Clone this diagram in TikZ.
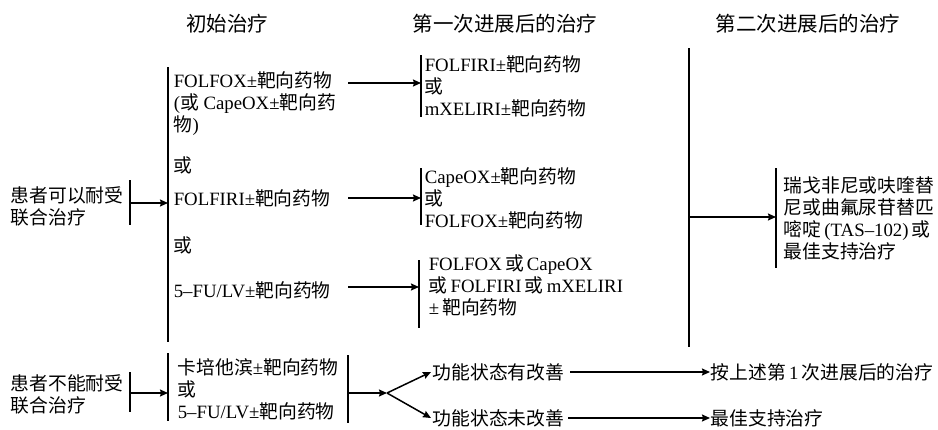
\documentclass[tikz,border=0pt]{standalone}
\usepackage{fontspec}
\setmainfont{Liberation Serif}
\newfontfamily\zhfont{Noto Sans CJK SC}
\newcommand{\zh}[1]{{\zhfont #1}}
\usetikzlibrary{
  arrows.meta,
  chains,
  scopes
}

\begin{document}
\begin{tikzpicture}[x=1pt,y=-1pt,
      body/.style={
         anchor=west,
         align=left,
         inner sep=0pt,
         font=\fontsize{18.8}{22}\selectfont
      },
      heading/.style={
         inner sep=0pt,
         font=\fontsize{20.5}{24}\selectfont
      },
      point/.style={coordinate},>={Stealth[length=8pt,width=7pt,inset=1pt]},
      line width=1.5pt,
      tip/.style={->,shorten >=0.007pt}
    ]
    \useasboundingbox (0,0) rectangle (938,429);
\node (h1) [heading] at (227,24) {\zh{初始治疗}};
\node (h2) [heading] at (505,24) {\zh{第一次进展后的治疗}};
\node (h3) [heading] at (808,24) {\zh{第二次进展后的治疗}};
\node (n01) [body] at (10,206) {\zh{患者可以耐受}\\\zh{联合治疗}};
\node (n02) [point] at (130,180) {};
\node (n03) [point] at (130,225) {};
\node (n04) [point] at (130,203) {};
\node (n05) [point] at (168,203) {};
\node (n06) [point] at (168,67) {};
\node (n07) [point] at (168,342) {};
\node (n11) [body] at (173,104) {FOLFOX±\zh{靶向药物}\\(\zh{或} CapeOX±\zh{靶向药}\\\zh{物})};
\node (n12) [body] at (173,165) {\zh{或}};
\node (n13) [body] at (173,198) {FOLFIRI±\zh{靶向药物}};
\node (n14) [body] at (173,245) {\zh{或}};
\node (n15) [body] at (173,290) {5–FU/LV±\zh{靶向药物}};
\node (n16) [point] at (348,83) {};
\node (n17) [point] at (348,198) {};
\node (n18) [point] at (348,287) {};
\node (n21) [point] at (421,55) {};
\node (n22) [point] at (421,117) {};
\node (n23) [point] at (421,83) {};
\node (n24) [body] at (424,86) {FOLFIRI±\zh{靶向药物}\\\zh{或}\\mXELIRI±\zh{靶向药物}};
\node (n25) [point] at (421,168) {};
\node (n26) [point] at (421,225) {};
\node (n27) [point] at (421,198) {};
\node (n28) [body] at (424,198) {CapeOX±\zh{靶向药物}\\\zh{或}\\FOLFOX±\zh{靶向药物}};
\node (n29) [point] at (419,260) {};
\node (n2a) [point] at (419,328) {};
\node (n2b) [point] at (419,287) {};
\node (n2c) [body] at (428,285) {FOLFOX\,\zh{或}\,CapeOX\\\zh{或}\,FOLFIRI\,\zh{或}\,mXELIRI\\±\,\zh{靶向药物}};
\node (n31) [point] at (689,48) {};
\node (n32) [point] at (689,347) {};
\node (n33) [point] at (689,217) {};
\node (n34) [point] at (776,168) {};
\node (n35) [point] at (776,268) {};
\node (n36) [point] at (776,217) {};
\node (n37) [body] at (783,218) {\zh{瑞戈非尼或呋喹替}\\\zh{尼或曲氟尿苷替匹}\\\zh{嘧啶}\,(TAS–102)\,\zh{或}\\\zh{最佳支持治疗}};
\node (n41) [body] at (10,394) {\zh{患者不能耐受}\\\zh{联合治疗}};
\node (n42) [point] at (130,372) {};
\node (n43) [point] at (130,412) {};
\node (n44) [point] at (130,393) {};
\node (n45) [point] at (168,393) {};
\node (n46) [point] at (168,353) {};
\node (n47) [point] at (168,421) {};
\node (n48) [body] at (177,389) {\zh{卡培他滨}±\zh{靶向药物}\\\zh{或}\\5–FU/LV±\zh{靶向药物}};
\node (n49) [point] at (348,355) {};
\node (n4a) [point] at (348,423) {};
\node (n4b) [point] at (348,393) {};
\node (n4c) [point] at (387,393) {};
\node (n51) [point] at (431,372) {};
\node (n52) [point] at (431,418) {};
\node (n53) [body] at (432,372) {\zh{功能状态有改善}};
\node (n54) [body] at (432,418) {\zh{功能状态未改善}};
\node (n55) [point] at (570,372) {};
\node (n56) [point] at (568,418) {};
\node (n57) [body] at (710,372) {\zh{按上述第}\,1\,\zh{次进展后的治疗}};
\node (n58) [body] at (710,418) {\zh{最佳支持治疗}};
  { [start chain]
       \chainin (n02);
       \chainin (n03)    [join];
  }
  { [start chain]
       \chainin (n04);
       \chainin (n05)    [join=by tip];
  }
  { [start chain]
       \chainin (n06);
       \chainin (n07)    [join];
  }
  { [start chain]
       \chainin (n16);
       \chainin (n23)    [join=by tip];
  }
  { [start chain]
       \chainin (n17);
       \chainin (n27)    [join=by tip];
  }
  { [start chain]
       \chainin (n18);
       \chainin (n2b)    [join=by tip];
  }
  { [start chain]
       \chainin (n21);
       \chainin (n22)    [join];
  }
  { [start chain]
       \chainin (n25);
       \chainin (n26)    [join];
  }
  { [start chain]
       \chainin (n29);
       \chainin (n2a)    [join];
  }
  { [start chain]
       \chainin (n31);
       \chainin (n32)    [join];
  }
  { [start chain]
       \chainin (n33);
       \chainin (n36)    [join=by tip];
  }
  { [start chain]
       \chainin (n34);
       \chainin (n35)    [join];
  }
  { [start chain]
       \chainin (n42);
       \chainin (n43)    [join];
  }
  { [start chain]
       \chainin (n44);
       \chainin (n45)    [join=by tip];
  }
  { [start chain]
       \chainin (n46);
       \chainin (n47)    [join];
  }
  { [start chain]
       \chainin (n49);
       \chainin (n4a)    [join];
  }
  { [start chain]
       \chainin (n4b);
       \chainin (n4c)    [join=by tip];
       \chainin (n51)    [join=by tip];
  }
  { [start chain]
       \chainin (n4c);
       \chainin (n52)    [join=by tip];
  }
  { [start chain]
       \chainin (n55);
       \chainin (n57)    [join=by tip];
  }
  { [start chain]
       \chainin (n56);
       \chainin (n58)    [join=by tip];
  }
\end{tikzpicture}
\end{document}
